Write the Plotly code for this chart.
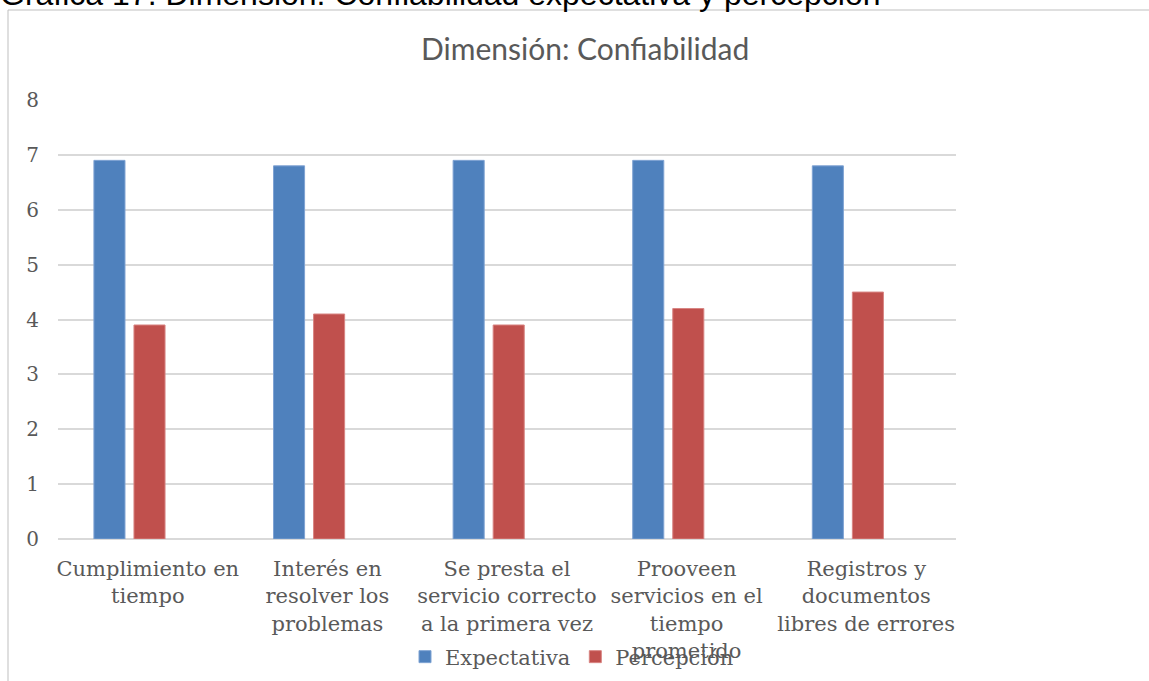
import plotly.graph_objects as go

# Data
categories = [
    "Cumplimiento en<br>tiempo",
    "Interés en<br>resolver los<br>problemas",
    "Se presta el<br>servicio correcto<br>a la primera vez",
    "Prooveen<br>servicios en el<br>tiempo<br>prometido",
    "Registros y<br>documentos<br>libres de errores",
]
expectativa = [6.9, 6.8, 6.9, 6.9, 6.8]
percepcion = [3.9, 4.1, 3.9, 4.2, 4.5]
y_ticks = [0, 1, 2, 3, 4, 5, 6, 7, 8]

W, H = 1149, 681
L, R, T, B = 58, 193, 100, 142
plot_w = W - L - R
plot_h = H - T - B


def px_x(px):
    return (px - L) / plot_w


def px_y(py):
    return (H - B - py) / plot_h


SERIF = "DejaVu Serif"
GRAY = "#595959"

fig = go.Figure()
fig.add_trace(go.Bar(
    x=categories, y=expectativa, name="Expectativa",
    marker=dict(color="#4F81BD", line=dict(color="#7FA3D3", width=1)),
    width=0.173, offset=-0.30,
))
fig.add_trace(go.Bar(
    x=categories, y=percepcion, name="Percepción",
    marker=dict(color="#C0504D", line=dict(color="#D88583", width=1)),
    width=0.173, offset=-0.077,
))

fig.update_layout(
    width=W, height=H,
    margin=dict(l=L, r=R, t=T, b=B, autoexpand=False),
    paper_bgcolor="white", plot_bgcolor="white",
    showlegend=True,
    legend=dict(
        orientation="h", x=px_x(572), xanchor="center",
        y=px_y(657), yanchor="middle",
        font=dict(family=SERIF, size=21, color=GRAY),
        bgcolor="rgba(0,0,0,0)", itemwidth=30,
    ),
    xaxis=dict(
        showgrid=False, showline=False, zeroline=False,
        tickfont=dict(family=SERIF, size=21, color=GRAY),
        ticks="", ticklabelstandoff=15,
    ),
    yaxis=dict(
        range=[0, 8], tickvals=y_ticks,
        showgrid=True, gridcolor="#D9D9D9", gridwidth=1.5,
        zeroline=True, zerolinecolor="#D9D9D9", zerolinewidth=1.5,
        showline=False, ticks="",
        tickfont=dict(family=SERIF, size=20, color=GRAY),
        ticklabelstandoff=18,
    ),
    shapes=[
        dict(type="line", xref="paper", yref="paper",
             x0=px_x(8), x1=px_x(W + 5), y0=px_y(10), y1=px_y(10),
             line=dict(color="#BFBFBF", width=1)),
        dict(type="line", xref="paper", yref="paper",
             x0=px_x(8), x1=px_x(8), y0=px_y(10), y1=px_y(H + 5),
             line=dict(color="#BFBFBF", width=1)),
    ],
    annotations=[
        dict(text="Dimensión: Confiabilidad", xref="paper", yref="paper",
             x=px_x(585), y=px_y(48), xanchor="center", yanchor="middle",
             showarrow=False,
             font=dict(family="Lato", size=30, color=GRAY)),
        dict(text="Gráfica 17. Dimensión: Confiabilidad expectativa y percepción",
             xref="paper", yref="paper",
             x=px_x(-2), y=px_y(-6), xanchor="left", yanchor="middle",
             showarrow=False,
             font=dict(family="Arial, Liberation Sans", size=32, color="black")),
    ],
)

fig.write_html("out.html")
